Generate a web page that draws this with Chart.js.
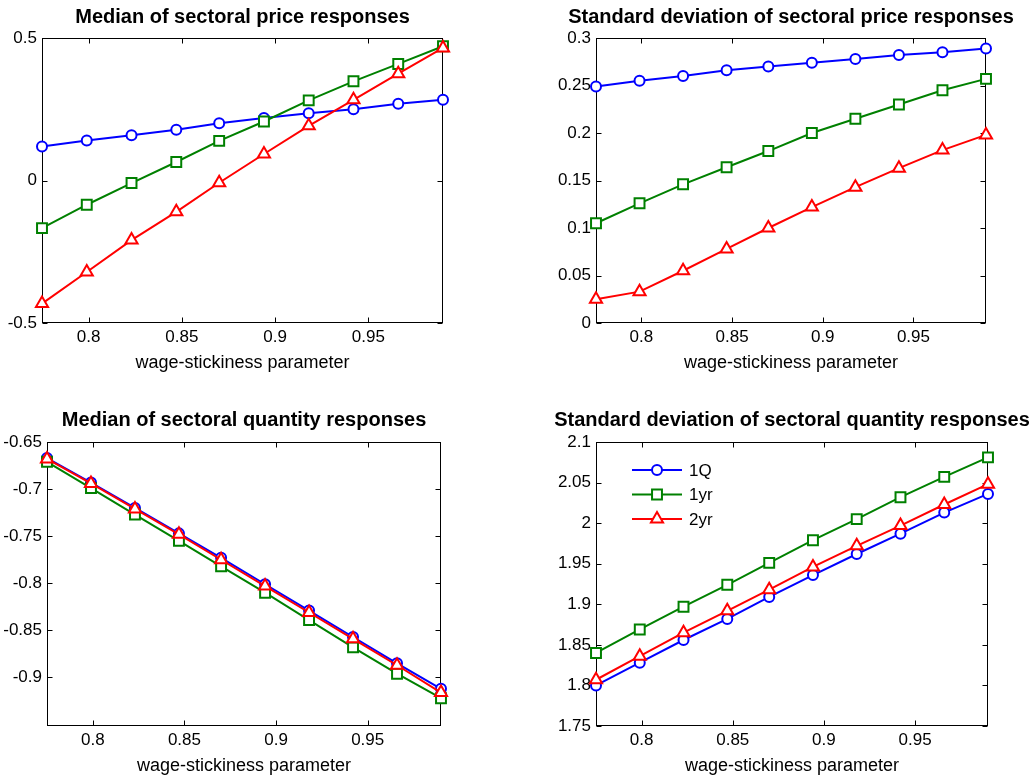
<!DOCTYPE html>
<html>
<head>
<meta charset="utf-8">
<script src="https://cdn.jsdelivr.net/npm/chart.js@4.4.1/dist/chart.umd.min.js"></script>
<style>
  html, body { margin: 0; padding: 0; background: #fff; }
  body { width: 1035px; height: 780px; position: relative; overflow: hidden; }
  canvas { position: absolute; }
</style>
</head>
<body>
<canvas id="medPriceChart" width="485" height="383" style="left:0px;top:0px"></canvas>
<canvas id="sdPriceChart" width="488" height="383" style="left:547px;top:0px"></canvas>
<canvas id="medQtyChart" width="488" height="382" style="left:0px;top:404px"></canvas>
<canvas id="sdQtyChart" width="486" height="382" style="left:549px;top:404px"></canvas>
<script>
// Wage-stickiness parameter grid (x axis of every panel)
const wageParam = [0.775, 0.799, 0.823, 0.847, 0.870, 0.894, 0.918, 0.942, 0.966, 0.990];

// Response horizons
const horizonLabels = ['1Q', '1yr', '2yr'];

// Median of sectoral price responses
const medPrice1Q  = [0.119, 0.140, 0.159, 0.178, 0.201, 0.219, 0.236, 0.250, 0.269, 0.283];
const medPrice1yr = [-0.167, -0.085, -0.009, 0.065, 0.139, 0.207, 0.281, 0.348, 0.409, 0.471];
const medPrice2yr = [-0.432, -0.321, -0.209, -0.110, -0.008, 0.093, 0.192, 0.283, 0.375, 0.465];

// Standard deviation of sectoral price responses
const sdPrice1Q  = [0.249, 0.255, 0.260, 0.266, 0.270, 0.274, 0.278, 0.282, 0.285, 0.289];
const sdPrice1yr = [0.105, 0.126, 0.146, 0.164, 0.181, 0.200, 0.215, 0.230, 0.245, 0.257];
const sdPrice2yr = [0.025, 0.033, 0.055, 0.078, 0.100, 0.122, 0.143, 0.163, 0.182, 0.198];

// Median of sectoral quantity responses
const medQty1Q  = [-0.667, -0.693, -0.720, -0.747, -0.773, -0.801, -0.829, -0.857, -0.885, -0.912];
const medQty1yr = [-0.671, -0.699, -0.727, -0.755, -0.782, -0.810, -0.839, -0.868, -0.896, -0.922];
const medQty2yr = [-0.668, -0.694, -0.721, -0.748, -0.775, -0.803, -0.831, -0.859, -0.887, -0.916];

// Standard deviation of sectoral quantity responses
const sdQty1Q  = [1.800, 1.828, 1.856, 1.882, 1.909, 1.936, 1.962, 1.987, 2.013, 2.036];
const sdQty1yr = [1.840, 1.869, 1.897, 1.924, 1.951, 1.979, 2.005, 2.032, 2.057, 2.081];
const sdQty2yr = [1.807, 1.836, 1.865, 1.892, 1.918, 1.946, 1.972, 1.997, 2.023, 2.048];

// Tick values
const ticksX        = [0.8, 0.85, 0.9, 0.95];
const ticksMedPrice = [-0.5, 0, 0.5];
const ticksSdPrice  = [0, 0.05, 0.1, 0.15, 0.2, 0.25, 0.3];
const ticksMedQty   = [-0.9, -0.85, -0.8, -0.75, -0.7, -0.65];
const ticksSdQty    = [1.75, 1.8, 1.85, 1.9, 1.95, 2, 2.05, 2.1];

const FONT = "'Liberation Sans', Arial, Helvetica, sans-serif";
const lineColors = ['#0000ff', '#008000', '#ff0000'];
const markers = ['circle', 'rect', 'triangle'];
const markerRadius = [5, 7, 7];

const fmt = v => String(parseFloat(Number(v).toFixed(4)));

// Box around the plot area with inward tick marks on all four sides
const framePlugin = {
  id: 'boxFrame',
  beforeDatasetsDraw(chart) {
    const { ctx, chartArea: a, scales: { x, y } } = chart;
    const L = Math.round(a.left) + 0.5, R = Math.round(a.right) - 0.5;
    const T = Math.round(a.top) + 0.5, B = Math.round(a.bottom) - 0.5;
    const len = 5;
    ctx.save();
    ctx.strokeStyle = '#000';
    ctx.lineWidth = 1;
    ctx.strokeRect(L, T, R - L, B - T);
    ctx.beginPath();
    x.ticks.forEach(t => {
      const px = Math.round(x.getPixelForValue(t.value)) + 0.5;
      ctx.moveTo(px, B); ctx.lineTo(px, B - len);
      ctx.moveTo(px, T); ctx.lineTo(px, T + len);
    });
    y.ticks.forEach(t => {
      const py = Math.round(y.getPixelForValue(t.value)) + 0.5;
      ctx.moveTo(L, py); ctx.lineTo(L + len, py);
      ctx.moveTo(R, py); ctx.lineTo(R - len, py);
    });
    ctx.stroke();
    ctx.restore();
  }
};

// Borderless legend drawn inside the plot area
const insideLegend = {
  id: 'insideLegend',
  afterDatasetsDraw(chart, args, opts) {
    if (!opts.display) return;
    const { ctx, chartArea: a } = chart;
    chart.data.datasets.forEach((ds, i) => {
      const y = a.top + opts.top + i * opts.rowGap;
      const x0 = a.left + opts.left, x1 = x0 + opts.lineLength;
      ctx.save();
      ctx.strokeStyle = ds.borderColor;
      ctx.lineWidth = ds.borderWidth;
      ctx.beginPath(); ctx.moveTo(x0, y); ctx.lineTo(x1, y); ctx.stroke();
      ctx.fillStyle = ds.pointBackgroundColor;
      ctx.strokeStyle = ds.pointBorderColor;
      ctx.lineWidth = ds.pointBorderWidth;
      Chart.helpers.drawPoint(ctx, {
        pointStyle: ds.pointStyle, radius: ds.pointRadius,
        borderWidth: ds.pointBorderWidth, rotation: 0
      }, (x0 + x1) / 2, y);
      ctx.fillStyle = '#000';
      ctx.font = opts.fontSize + 'px ' + FONT;
      ctx.textBaseline = 'middle';
      ctx.textAlign = 'left';
      ctx.fillText(ds.label, x1 + opts.textGap, y + 1);
      ctx.restore();
    });
  }
};

function makeDatasets(seriesList) {
  return seriesList.map((vals, i) => ({
    label: horizonLabels[i],
    data: wageParam.map((xv, k) => ({ x: xv, y: vals[k] })),
    borderColor: lineColors[i],
    borderWidth: 2,
    pointStyle: markers[i],
    pointRadius: markerRadius[i],
    pointHoverRadius: markerRadius[i],
    pointBorderWidth: 2,
    pointBorderColor: lineColors[i],
    pointBackgroundColor: '#ffffff',
    tension: 0,
    fill: false,
    clip: false,
    order: 3 - i
  }));
}

function makeChart(id, cfg) {
  const sideWidth = cfg.sideWidth;
  return new Chart(document.getElementById(id), {
    type: 'line',
    data: { datasets: makeDatasets(cfg.series) },
    plugins: [framePlugin, insideLegend],
    options: {
      responsive: false,
      animation: false,
      devicePixelRatio: 1,
      events: [],
      layout: { padding: 0 },
      plugins: {
        legend: { display: false },
        tooltip: { enabled: false },
        title: {
          display: true,
          text: cfg.title,
          color: '#000',
          font: { family: FONT, size: 20, weight: 'bold' },
          padding: { top: cfg.titleTop, bottom: 38 - 24 - cfg.titleTop }
        },
        insideLegend: cfg.legend || { display: false }
      },
      scales: {
        x: {
          type: 'linear',
          min: 0.775,
          max: 0.99,
          afterBuildTicks: s => { s.ticks = ticksX.map(v => ({ value: v })); },
          afterFit: s => { s.height = 60; },
          ticks: {
            color: '#000', padding: 4, maxRotation: 0, autoSkip: false,
            font: { family: FONT, size: 17 }, callback: fmt
          },
          grid: { display: false, drawTicks: false },
          border: { display: false },
          title: {
            display: true, text: 'wage-stickiness parameter', color: '#000',
            font: { family: FONT, size: 18 }, padding: { top: 0, bottom: 9.5 }
          }
        },
        y: {
          type: 'linear',
          position: 'left',
          min: cfg.yMin,
          max: cfg.yMax,
          afterBuildTicks: s => { s.ticks = cfg.yTicks.map(v => ({ value: v })); },
          afterFit: s => { s.width = sideWidth; },
          ticks: {
            color: '#000', padding: 5, autoSkip: false,
            font: { family: FONT, size: 17 }, callback: fmt
          },
          grid: { display: false, drawTicks: false },
          border: { display: false }
        },
        yRight: {
          type: 'linear',
          position: 'right',
          display: true,
          afterFit: s => { s.width = sideWidth; },
          ticks: { display: false },
          grid: { display: false, drawTicks: false },
          border: { display: false }
        }
      }
    }
  });
}

makeChart('medPriceChart', {
  title: 'Median of sectoral price responses',
  series: [medPrice1Q, medPrice1yr, medPrice2yr],
  yMin: -0.5, yMax: 0.5, yTicks: ticksMedPrice,
  sideWidth: 42, titleTop: 5
});

makeChart('sdPriceChart', {
  title: 'Standard deviation of sectoral price responses',
  series: [sdPrice1Q, sdPrice1yr, sdPrice2yr],
  yMin: 0, yMax: 0.3, yTicks: ticksSdPrice,
  sideWidth: 49, titleTop: 5
});

makeChart('medQtyChart', {
  title: 'Median of sectoral quantity responses',
  series: [medQty1Q, medQty1yr, medQty2yr],
  yMin: -0.9515, yMax: -0.65, yTicks: ticksMedQty,
  sideWidth: 47, titleTop: 4
});

makeChart('sdQtyChart', {
  title: 'Standard deviation of sectoral quantity responses',
  series: [sdQty1Q, sdQty1yr, sdQty2yr],
  yMin: 1.75, yMax: 2.1, yTicks: ticksSdQty,
  sideWidth: 47, titleTop: 4,
  legend: { display: true, left: 36, top: 28, rowGap: 24.5, lineLength: 50, textGap: 7, fontSize: 17 }
});
</script>
</body>
</html>
